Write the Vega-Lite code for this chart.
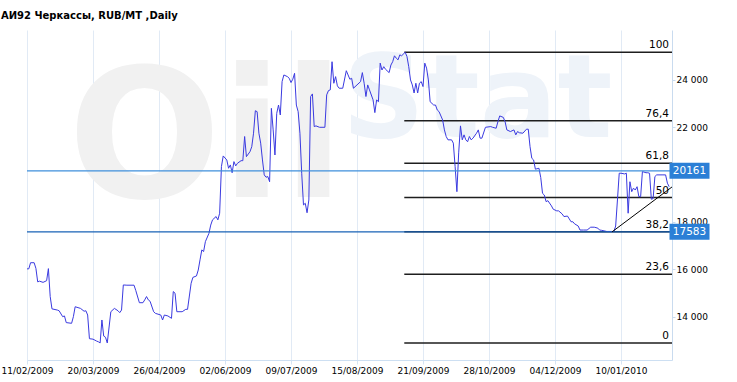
{
  "$schema": "https://vega.github.io/schema/vega-lite/v6.json",
  "autosize": "none",
  "width": 645,
  "height": 330,
  "padding": {"left": 27, "top": 30, "right": 65, "bottom": 22},
  "background": "white",
  "title": {"text": "АИ92 Черкассы, RUB/MT ,Daily", "anchor": "start", "frame": "group", "dx": -26, "offset": 9, "font": "DejaVu Sans", "fontSize": 10, "fontWeight": "bold", "color": "#000000"},
  "config": {"view": {"stroke": null}, "font": "DejaVu Sans"},
  "datasets": {
    "price": [
      {"date":"2009-02-11","price":16020},{"date":"2009-02-12","price":16020},{"date":"2009-02-13","price":16280},{"date":"2009-02-15","price":16280},{"date":"2009-02-16","price":16040},{"date":"2009-02-17","price":15470},{"date":"2009-02-18","price":15500},{"date":"2009-02-20","price":15450},{"date":"2009-02-22","price":15520},{"date":"2009-02-23","price":16030},{"date":"2009-02-24","price":14850},{"date":"2009-02-25","price":14330},{"date":"2009-02-28","price":14280},
      {"date":"2009-03-01","price":14250},{"date":"2009-03-03","price":14000},{"date":"2009-03-04","price":14030},{"date":"2009-03-05","price":13750},{"date":"2009-03-08","price":13720},{"date":"2009-03-09","price":14000},{"date":"2009-03-10","price":14420},{"date":"2009-03-13","price":14350},{"date":"2009-03-15","price":14230},{"date":"2009-03-16","price":14250},{"date":"2009-03-17","price":14070},{"date":"2009-03-18","price":13070},{"date":"2009-03-20","price":13050},{"date":"2009-03-22","price":12970},{"date":"2009-03-23","price":12940},{"date":"2009-03-24","price":12890},{"date":"2009-03-25","price":13860},{"date":"2009-03-26","price":13180},{"date":"2009-03-27","price":13130},{"date":"2009-03-28","price":12890},{"date":"2009-03-30","price":14210},
      {"date":"2009-04-01","price":14350},{"date":"2009-04-03","price":14250},{"date":"2009-04-04","price":14170},{"date":"2009-04-05","price":14280},{"date":"2009-04-06","price":15340},{"date":"2009-04-08","price":15330},{"date":"2009-04-12","price":15330},{"date":"2009-04-13","price":15100},{"date":"2009-04-15","price":14590},{"date":"2009-04-17","price":14590},{"date":"2009-04-18","price":14710},{"date":"2009-04-19","price":14850},{"date":"2009-04-20","price":14710},{"date":"2009-04-21","price":14650},{"date":"2009-04-23","price":14210},{"date":"2009-04-24","price":14140},{"date":"2009-04-27","price":14070},{"date":"2009-04-28","price":13860},{"date":"2009-04-29","price":14070},
      {"date":"2009-05-01","price":14030},{"date":"2009-05-03","price":13930},{"date":"2009-05-04","price":15060},{"date":"2009-05-05","price":14990},{"date":"2009-05-06","price":14210},{"date":"2009-05-09","price":14210},{"date":"2009-05-11","price":14310},{"date":"2009-05-12","price":14310},{"date":"2009-05-14","price":15410},{"date":"2009-05-15","price":15660},{"date":"2009-05-17","price":15720},{"date":"2009-05-18","price":15970},{"date":"2009-05-19","price":16400},{"date":"2009-05-20","price":16820},{"date":"2009-05-21","price":16750},{"date":"2009-05-22","price":17170},{"date":"2009-05-24","price":17520},{"date":"2009-05-25","price":17870},{"date":"2009-05-26","price":18090},{"date":"2009-05-28","price":18230},{"date":"2009-05-29","price":18090},{"date":"2009-05-30","price":18370},{"date":"2009-05-31","price":20340},
      {"date":"2009-06-01","price":20790},{"date":"2009-06-03","price":20620},{"date":"2009-06-04","price":20270},{"date":"2009-06-05","price":20410},{"date":"2009-06-06","price":20080},{"date":"2009-06-07","price":20550},{"date":"2009-06-08","price":20370},{"date":"2009-06-09","price":20480},{"date":"2009-06-11","price":20590},{"date":"2009-06-12","price":20590},{"date":"2009-06-13","price":21610},{"date":"2009-06-14","price":20760},{"date":"2009-06-16","price":20970},{"date":"2009-06-17","price":21180},{"date":"2009-06-18","price":21750},{"date":"2009-06-19","price":22700},{"date":"2009-06-20","price":22660},{"date":"2009-06-21","price":21750},{"date":"2009-06-22","price":21330},{"date":"2009-06-23","price":20620},{"date":"2009-06-24","price":19990},{"date":"2009-06-25","price":19890},{"date":"2009-06-26","price":19920},{"date":"2009-06-27","price":19700},{"date":"2009-06-28","price":22800},{"date":"2009-06-29","price":21890},{"date":"2009-06-30","price":20830},
      {"date":"2009-07-01","price":22590},{"date":"2009-07-02","price":22940},{"date":"2009-07-03","price":22520},{"date":"2009-07-04","price":23930},{"date":"2009-07-05","price":24210},{"date":"2009-07-07","price":24140},{"date":"2009-07-08","price":24070},{"date":"2009-07-09","price":23890},{"date":"2009-07-10","price":24030},{"date":"2009-07-11","price":24280},{"date":"2009-07-12","price":22940},{"date":"2009-07-13","price":22660},{"date":"2009-07-14","price":21750},{"date":"2009-07-15","price":20060},{"date":"2009-07-16","price":18720},{"date":"2009-07-17","price":18790},{"date":"2009-07-18","price":18390},{"date":"2009-07-19","price":18930},{"date":"2009-07-20","price":23300},{"date":"2009-07-21","price":23410},{"date":"2009-07-22","price":22030},{"date":"2009-07-23","price":22060},{"date":"2009-07-25","price":22000},{"date":"2009-07-28","price":22000},{"date":"2009-07-29","price":23370},{"date":"2009-07-30","price":23550},{"date":"2009-07-31","price":23580},
      {"date":"2009-08-01","price":24770},{"date":"2009-08-02","price":23860},{"date":"2009-08-03","price":24140},{"date":"2009-08-04","price":23750},{"date":"2009-08-05","price":23650},{"date":"2009-08-07","price":23650},{"date":"2009-08-09","price":24390},{"date":"2009-08-10","price":24210},{"date":"2009-08-11","price":24030},{"date":"2009-08-12","price":24070},{"date":"2009-08-13","price":23650},{"date":"2009-08-15","price":23790},{"date":"2009-08-17","price":23930},{"date":"2009-08-18","price":24310},{"date":"2009-08-19","price":23860},{"date":"2009-08-20","price":23300},{"date":"2009-08-21","price":23790},{"date":"2009-08-22","price":23580},{"date":"2009-08-24","price":23160},{"date":"2009-08-25","price":22620},{"date":"2009-08-26","price":23160},{"date":"2009-08-27","price":23080},{"date":"2009-08-28","price":24710},{"date":"2009-08-29","price":24420},{"date":"2009-08-30","price":24560},{"date":"2009-08-31","price":24450},
      {"date":"2009-09-02","price":24310},{"date":"2009-09-03","price":24630},{"date":"2009-09-04","price":24770},{"date":"2009-09-05","price":25020},{"date":"2009-09-06","price":24920},{"date":"2009-09-07","price":24850},{"date":"2009-09-08","price":25060},{"date":"2009-09-09","price":25020},{"date":"2009-09-11","price":25170},{"date":"2009-09-12","price":24990},{"date":"2009-09-13","price":24560},{"date":"2009-09-14","price":24000},{"date":"2009-09-15","price":23790},{"date":"2009-09-16","price":23450},{"date":"2009-09-17","price":23860},{"date":"2009-09-18","price":23450},{"date":"2009-09-19","price":23860},{"date":"2009-09-20","price":23930},{"date":"2009-09-21","price":23720},{"date":"2009-09-22","price":24710},{"date":"2009-09-23","price":24500},{"date":"2009-09-24","price":24000},{"date":"2009-09-25","price":23080},{"date":"2009-09-27","price":22940},{"date":"2009-09-28","price":22940},{"date":"2009-09-29","price":22730},{"date":"2009-09-30","price":22660},
      {"date":"2009-10-02","price":22310},{"date":"2009-10-03","price":21890},{"date":"2009-10-04","price":21610},{"date":"2009-10-05","price":21470},{"date":"2009-10-07","price":21470},{"date":"2009-10-08","price":21330},{"date":"2009-10-09","price":20340},{"date":"2009-10-10","price":19280},{"date":"2009-10-11","price":20920},{"date":"2009-10-12","price":22060},{"date":"2009-10-13","price":21470},{"date":"2009-10-14","price":21680},{"date":"2009-10-15","price":21470},{"date":"2009-10-16","price":21390},{"date":"2009-10-17","price":21610},{"date":"2009-10-18","price":21470},{"date":"2009-10-19","price":21540},{"date":"2009-10-21","price":21750},{"date":"2009-10-22","price":21890},{"date":"2009-10-23","price":21540},{"date":"2009-10-24","price":21540},{"date":"2009-10-26","price":22000},{"date":"2009-10-29","price":22030},{"date":"2009-10-30","price":22000},
      {"date":"2009-11-01","price":21960},{"date":"2009-11-02","price":22240},{"date":"2009-11-03","price":22480},{"date":"2009-11-05","price":22420},{"date":"2009-11-06","price":22240},{"date":"2009-11-07","price":21890},{"date":"2009-11-09","price":21820},{"date":"2009-11-11","price":21890},{"date":"2009-11-12","price":21680},{"date":"2009-11-13","price":21820},{"date":"2009-11-14","price":21770},{"date":"2009-11-16","price":21750},{"date":"2009-11-18","price":21920},{"date":"2009-11-19","price":21920},{"date":"2009-11-20","price":21180},{"date":"2009-11-21","price":20690},{"date":"2009-11-22","price":20620},{"date":"2009-11-23","price":20230},{"date":"2009-11-25","price":20270},{"date":"2009-11-26","price":19880},{"date":"2009-11-27","price":19210},{"date":"2009-11-28","price":19140},{"date":"2009-11-29","price":18860},{"date":"2009-11-30","price":18900},
      {"date":"2009-12-02","price":18680},{"date":"2009-12-03","price":18540},{"date":"2009-12-05","price":18470},{"date":"2009-12-06","price":18470},{"date":"2009-12-08","price":18340},{"date":"2009-12-09","price":18230},{"date":"2009-12-11","price":18250},{"date":"2009-12-12","price":18130},{"date":"2009-12-13","price":18010},{"date":"2009-12-14","price":18010},{"date":"2009-12-15","price":17920},{"date":"2009-12-17","price":17830},{"date":"2009-12-18","price":17660},{"date":"2009-12-20","price":17660},{"date":"2009-12-22","price":17660},{"date":"2009-12-24","price":17780},{"date":"2009-12-26","price":17780},{"date":"2009-12-28","price":17740},{"date":"2009-12-29","price":17660},{"date":"2009-12-30","price":17650},
      {"date":"2010-01-02","price":17600},{"date":"2010-01-06","price":17600},{"date":"2010-01-07","price":17830},{"date":"2010-01-08","price":18930},{"date":"2010-01-09","price":20060},{"date":"2010-01-10","price":20060},{"date":"2010-01-12","price":20030},{"date":"2010-01-13","price":20060},{"date":"2010-01-14","price":18370},{"date":"2010-01-15","price":19700},{"date":"2010-01-16","price":19280},{"date":"2010-01-17","price":19430},{"date":"2010-01-18","price":19350},{"date":"2010-01-19","price":19490},{"date":"2010-01-20","price":19070},{"date":"2010-01-21","price":19070},{"date":"2010-01-22","price":20130},{"date":"2010-01-24","price":20080},{"date":"2010-01-25","price":20080},{"date":"2010-01-26","price":20060},{"date":"2010-01-27","price":18960},{"date":"2010-01-28","price":18990},{"date":"2010-01-29","price":19920},{"date":"2010-01-30","price":19990},
      {"date":"2010-02-02","price":19990},{"date":"2010-02-04","price":19990},{"date":"2010-02-05","price":19640},{"date":"2010-02-06","price":19490}
    ],
    "fib": [
      {"pct":"100","value":25172},
      {"pct":"76,4","value":22274},
      {"pct":"61,8","value":20481},
      {"pct":"50","value":19032},
      {"pct":"38,2","value":17583},
      {"pct":"23,6","value":15790},
      {"pct":"0","value":12892}
    ],
    "levels": [
      {"label":"20161","value":20161},
      {"label":"17583","value":17583}
    ],
    "trend": [
      {"date":"2010-01-05","value":17583},
      {"date":"2010-02-07T14:00:00Z","value":19480}
    ],
    "mark1": [{"text":"Oil"}],
    "mark2": [{"text":"Stat"}]
  },
  "layer": [
    {
      "data": {"name": "price"},
      "mark": {"type": "line", "color": "#3a3ae0", "strokeWidth": 1, "opacity": 0},
      "encoding": {
        "x": {"field": "date", "type": "temporal", "title": null,
          "scale": {"type": "utc", "domain": [{"year":2009,"month":2,"date":11,"utc":true},{"year":2010,"month":2,"date":7,"hours":14,"utc":true}], "nice": false},
          "axis": {"values": [
              {"year":2009,"month":2,"date":11,"utc":true},{"year":2009,"month":3,"date":20,"utc":true},{"year":2009,"month":4,"date":26,"utc":true},{"year":2009,"month":6,"date":2,"utc":true},{"year":2009,"month":7,"date":9,"utc":true},{"year":2009,"month":8,"date":15,"utc":true},{"year":2009,"month":9,"date":21,"utc":true},{"year":2009,"month":10,"date":28,"utc":true},{"year":2009,"month":12,"date":4,"utc":true},{"year":2010,"month":1,"date":10,"utc":true}],
            "format": "%d/%m/%Y", "labelFont": "DejaVu Sans", "labelFontSize": 9, "labelColor": "#000000", "labelPadding": 2, "labelFlush": false, "labelOverlap": false,
            "grid": true, "gridColor": "#e1eaf5", "gridWidth": 1, "domainColor": "#cddff2", "tickColor": "#d6e4f3", "tickSize": 4}},
        "y": {"field": "price", "type": "quantitative", "title": null,
          "scale": {"domain": [12170, 26110], "nice": false, "zero": false},
          "axis": {"orient": "right", "values": [14000, 16000, 18000, 22000, 24000], "labelExpr": "replace(format(datum.value, ','), ',', ' ')", "labelFont": "DejaVu Sans", "labelFontSize": 9, "labelColor": "#000000", "labelPadding": 1, "grid": false, "domainColor": "#c9dbef", "tickColor": "#c9dbef", "tickSize": 3}}
      }
    },
    {
      "data": {"name": "mark1"},
      "mark": {"type": "text", "align": "left", "baseline": "alphabetic", "font": "DejaVu Sans", "fontWeight": "bold", "fontSize": 180, "color": "#f1f1f1"},
      "encoding": {
        "x": {"datum": {"year":2009,"month":3,"date":6,"utc":true}, "type": "temporal", "title": null},
        "y": {"datum": 19057, "type": "quantitative", "title": null},
        "text": {"field": "text"}
      }
    },
    {
      "data": {"name": "mark2"},
      "mark": {"type": "text", "align": "left", "baseline": "alphabetic", "font": "DejaVu Sans", "fontWeight": "bold", "fontSize": 115, "color": "#eef3f9"},
      "encoding": {
        "x": {"datum": {"year":2009,"month":8,"date":6,"hours":14,"utc":true}, "type": "temporal", "title": null},
        "y": {"datum": 21592, "type": "quantitative", "title": null},
        "text": {"field": "text"}
      }
    },
    {
      "data": {"name": "fib"},
      "mark": {"type": "rule", "color": "#1e1e1e", "strokeWidth": 1.5},
      "encoding": {
        "x": {"datum": {"year":2009,"month":9,"date":10,"hours":12,"utc":true}, "type": "temporal", "title": null},
        "x2": {"datum": {"year":2010,"month":2,"date":7,"hours":14,"utc":true}},
        "y": {"field": "value", "type": "quantitative", "title": null}
      }
    },
    {
      "data": {"name": "fib"},
      "mark": {"type": "text", "align": "right", "baseline": "bottom", "dx": -3, "dy": -2, "font": "DejaVu Sans", "fontSize": 10.5, "color": "#000000"},
      "encoding": {
        "x": {"datum": {"year":2010,"month":2,"date":7,"hours":14,"utc":true}, "type": "temporal", "title": null},
        "y": {"field": "value", "type": "quantitative", "title": null},
        "text": {"field": "pct"}
      }
    },
    {
      "data": {"name": "price"},
      "mark": {"type": "line", "color": "#3a3ae0", "strokeWidth": 1},
      "encoding": {
        "x": {"field": "date", "type": "temporal", "title": null},
        "y": {"field": "price", "type": "quantitative", "title": null}
      }
    },
    {
      "data": {"name": "levels"},
      "mark": {"type": "rule", "strokeWidth": 1.3},
      "encoding": {
        "y": {"field": "value", "type": "quantitative", "title": null},
        "color": {"field": "label", "type": "nominal", "scale": {"domain": ["20161", "17583"], "range": ["#3f8fdb", "#1862b6"]}, "legend": null}
      }
    },
    {
      "data": {"name": "trend"},
      "mark": {"type": "line", "color": "#000000", "strokeWidth": 1},
      "encoding": {
        "x": {"field": "date", "type": "temporal", "title": null},
        "y": {"field": "value", "type": "quantitative", "title": null}
      }
    },
    {
      "data": {"name": "levels"},
      "mark": {"type": "point", "shape": "M-1,-0.4H1V0.4H-1Z", "size": 1600, "filled": true, "color": "#2b7fd6", "opacity": 1, "strokeWidth": 0, "xOffset": 17.5},
      "encoding": {
        "x": {"datum": {"year":2010,"month":2,"date":7,"hours":14,"utc":true}, "type": "temporal", "title": null},
        "y": {"field": "value", "type": "quantitative", "title": null}
      }
    },
    {
      "data": {"name": "levels"},
      "mark": {"type": "text", "align": "center", "baseline": "middle", "dx": 17.5, "font": "DejaVu Sans", "fontSize": 10.5, "color": "#ffffff"},
      "encoding": {
        "x": {"datum": {"year":2010,"month":2,"date":7,"hours":14,"utc":true}, "type": "temporal", "title": null},
        "y": {"field": "value", "type": "quantitative", "title": null},
        "text": {"field": "label"}
      }
    }
  ]
}
